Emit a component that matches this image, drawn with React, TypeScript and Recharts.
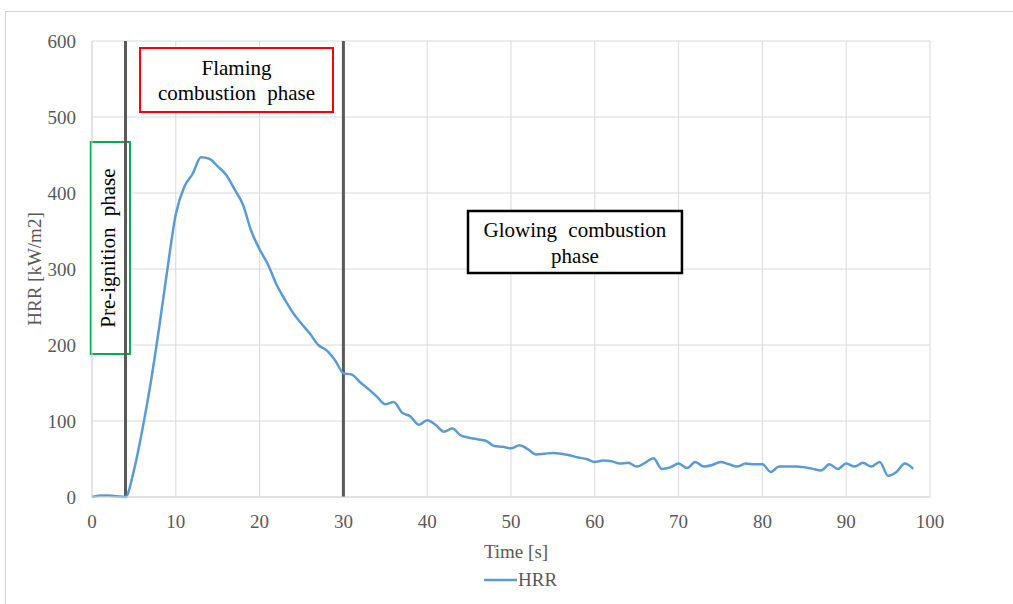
import React from 'react';
import {
  LineChart,
  Line,
  XAxis,
  YAxis,
  CartesianGrid,
  ReferenceArea,
  ReferenceLine,
  Legend,
} from 'recharts';

// Time [s]
const timeS = [
  0, 1, 2, 3, 4, 5, 6, 7, 8, 9, 10, 11, 12, 13, 14, 15, 16, 17, 18, 19, 20,
  21, 22, 23, 24, 25, 26, 27, 28, 29, 30, 31, 32, 33, 34, 35, 36, 37, 38, 39,
  40, 41, 42, 43, 44, 45, 46, 47, 48, 49, 50, 51, 52, 53, 54, 55, 56, 57, 58,
  59, 60, 61, 62, 63, 64, 65, 66, 67, 68, 69, 70, 71, 72, 73, 74, 75, 76, 77,
  78, 79, 80, 81, 82, 83, 84, 85, 86, 87, 88, 89, 90, 91, 92, 93, 94, 95, 96,
  97, 98,
];

// HRR [kW/m2]
const hrr = [
  0, 2, 2, 1, 0, 35, 88, 150, 222, 300, 372, 408, 425, 447, 445, 435, 424, 405,
  385, 350, 326, 306, 280, 260, 242, 228, 215, 200, 193, 180, 163, 161, 151,
  142, 132, 122, 125, 111, 106, 95, 101, 95, 86, 90, 81, 78, 76, 74, 67, 66, 64,
  68, 63, 56, 57, 58, 57, 55, 52, 50, 46, 48, 47, 44, 45, 40, 45, 51, 37, 39,
  44, 38, 46, 40, 42, 46, 43, 40, 44, 43, 43, 33, 40, 40, 40, 39, 37, 35, 43,
  37, 44, 40, 45, 40, 46, 28, 33, 44, 37,
];

const xTicks = [0, 10, 20, 30, 40, 50, 60, 70, 80, 90, 100];
const yTicks = [0, 100, 200, 300, 400, 500, 600];
const phaseBoundaries = [4, 30];

const preIgnitionLines = ['Pre-ignition phase'];
const flamingLines = ['Flaming', 'combustion phase'];
const glowingLines = ['Glowing combustion', 'phase'];

const data = timeS.map((t, i) => ({ t, HRR: hrr[i] }));

const FONT = '"Liberation Serif", "Times New Roman", serif';
const GRAY = '#595959';
const GRID = '#d9d9d9';

const boxLabel = (lines: string[], vertical: boolean) => (props: any) => {
  const vb = props.viewBox || {};
  const cx = vb.x + vb.width / 2;
  const cy = vb.y + vb.height / 2;
  const style = { wordSpacing: '6px' } as React.CSSProperties;
  if (vertical) {
    const bx = cx + 4.5;
    return (
      <text
        x={bx}
        y={cy}
        transform={`rotate(-90 ${bx} ${cy})`}
        textAnchor="middle"
        fontFamily={FONT}
        fontSize={21}
        fill="#000"
        style={style}
      >
        {lines[0]}
      </text>
    );
  }
  return (
    <text textAnchor="middle" fontFamily={FONT} fontSize={21} fill="#000" style={style}>
      {lines.map((l, i) => (
        <tspan key={i} x={cx} y={cy - 5 + i * 25.5}>
          {l}
        </tspan>
      ))}
    </text>
  );
};

const yLabel = (props: any) => {
  const vb = props.viewBox || {};
  const x = vb.x + 2;
  const y = vb.y + vb.height / 2;
  return (
    <text
      x={x}
      y={y}
      transform={`rotate(-90 ${x} ${y})`}
      textAnchor="middle"
      dominantBaseline="central"
      fontFamily={FONT}
      fontSize={19}
      fill={GRAY}
    >
      HRR [kW/m2]
    </text>
  );
};

const xLabel = (props: any) => {
  const vb = props.viewBox || {};
  return (
    <text
      x={vb.x + vb.width / 2 + 5}
      y={vb.y + 61}
      textAnchor="middle"
      fontFamily={FONT}
      fontSize={19}
      fill={GRAY}
    >
      Time [s]
    </text>
  );
};

const legendContent = () => (
  <div style={{ display: 'flex', alignItems: 'center', height: 24, fontFamily: FONT }}>
    <svg width={33} height={6} style={{ display: 'block' }}>
      <line x1={0} y1={3} x2={33} y2={3} stroke="#5b9bd5" strokeWidth={2.5} />
    </svg>
    <span style={{ fontSize: 19, color: GRAY, marginLeft: 1 }}>HRR</span>
  </div>
);

export default function App() {
  return (
    <div
      style={{
        position: 'absolute',
        left: 0,
        top: 0,
        width: 1013,
        height: 604,
        overflow: 'hidden',
        background: '#fff',
      }}
    >
      <div
        style={{
          position: 'absolute',
          left: 5,
          top: 11,
          width: 1100,
          height: 700,
          borderTop: '1px solid #d0d0d0',
          borderLeft: '1px solid #d0d0d0',
        }}
      />
      <div style={{ position: 'absolute', left: 0, top: 0 }}>
        <LineChart
          width={1013}
          height={604}
          data={data}
          margin={{ top: 41, right: 83, bottom: 77, left: 32 }}
          style={{ fontFamily: FONT }}
        >
          <CartesianGrid stroke={GRID} strokeWidth={1} />
          <XAxis
            dataKey="t"
            type="number"
            domain={[0, 100]}
            ticks={xTicks}
            interval={0}
            tickLine={false}
            tickSize={8}
            tickMargin={10}
            height={30}
            axisLine={{ stroke: GRID }}
            tick={{ fill: GRAY, fontSize: 19, fontFamily: FONT }}
            label={xLabel}
          />
          <YAxis
            type="number"
            domain={[0, 600]}
            ticks={yTicks}
            interval={0}
            tickLine={false}
            tickSize={7}
            tickMargin={9}
            width={60}
            axisLine={{ stroke: GRID }}
            tick={{ fill: GRAY, fontSize: 19, fontFamily: FONT }}
            label={yLabel}
          />
          <ReferenceArea
            x1={-0.15}
            x2={4.53}
            y1={188}
            y2={467}
            ifOverflow="visible"
            fill="#ffffff"
            fillOpacity={1}
            stroke="#00b050"
            strokeWidth={2}
            label={boxLabel(preIgnitionLines, true)}
          />
          <ReferenceArea
            x1={5.73}
            x2={28.76}
            y1={506.6}
            y2={590.8}
            ifOverflow="visible"
            fill="#ffffff"
            fillOpacity={1}
            stroke="#ff0000"
            strokeWidth={2}
            label={boxLabel(flamingLines, false)}
          />
          <ReferenceArea
            x1={44.87}
            x2={70.4}
            y1={294.7}
            y2={376.3}
            ifOverflow="visible"
            fill="#ffffff"
            fillOpacity={1}
            stroke="#000000"
            strokeWidth={2.5}
            label={boxLabel(glowingLines, false)}
          />
          {phaseBoundaries.map((b) => (
            <ReferenceLine key={b} x={b} stroke={GRAY} strokeWidth={3} />
          ))}
          <Line
            type="monotone"
            dataKey="HRR"
            stroke="#5b9bd5"
            strokeWidth={2.5}
            dot={false}
            activeDot={false}
            isAnimationActive={false}
          />
          <Legend
            layout="horizontal"
            verticalAlign="middle"
            align="center"
            wrapperStyle={{ top: 568, left: 484, width: 'auto' }}
            content={legendContent}
          />
        </LineChart>
      </div>
    </div>
  );
}
